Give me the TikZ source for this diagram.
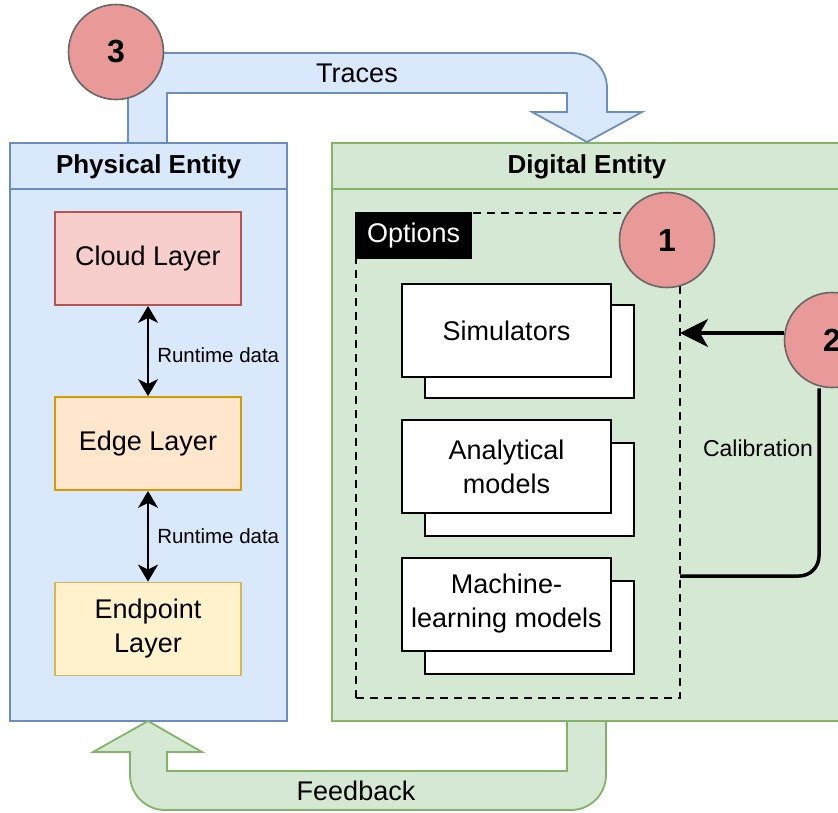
\documentclass[tikz,border=0pt]{standalone}
\usepackage{fontspec}
\setmainfont{Liberation Sans}
\usetikzlibrary{arrows.meta,calc}

\definecolor{blueFill}{HTML}{DAE8FC}
\definecolor{blueLine}{HTML}{6C8EBF}
\definecolor{greenFill}{HTML}{D5E8D4}
\definecolor{greenLine}{HTML}{82B366}
\definecolor{redFill}{HTML}{F8CECC}
\definecolor{redLine}{HTML}{B85450}
\definecolor{orangeFill}{HTML}{FFE6CC}
\definecolor{orangeLine}{HTML}{D79B00}
\definecolor{yellowFill}{HTML}{FFF2CC}
\definecolor{yellowLine}{HTML}{D6B656}
\definecolor{circFill}{HTML}{EA9999}
\definecolor{circLine}{HTML}{666666}

\pgfdeclarelayer{front}
\pgfsetlayers{main,front}

\tikzset{
  bigtext/.style={font=\fontsize{27}{34}\selectfont},
  titletext/.style={font=\bfseries\fontsize{26}{32}\selectfont, inner sep=0pt},
  physbox/.style={draw=blueLine, fill=blueFill, line width=1.8pt, inner sep=0pt},
  digibox/.style={draw=greenLine, fill=greenFill, line width=1.8pt, inner sep=0pt},
  layerbox/.style={line width=1.8pt, minimum width=186pt, minimum height=93pt,
    inner sep=0pt, align=center, bigtext},
  docback/.style={draw=black, fill=white, line width=2pt, minimum width=209pt,
    minimum height=93pt, inner sep=0pt},
  docfront/.style={docback, align=center, bigtext},
  optbox/.style={draw=black, line width=2pt, dash pattern=on 8pt off 6pt, inner sep=0pt},
  optlabel/.style={fill=black, text=white, inner sep=0pt, bigtext},
  numcircle/.style={circle, fill=circFill, draw=circLine, line width=1.6pt,
    minimum size=95pt, inner sep=0pt, font=\bfseries\fontsize{32}{36}\selectfont},
  bigarrowblue/.style={draw=blueLine, fill=blueFill, line width=1.8pt},
  bigarrowgreen/.style={draw=greenLine, fill=greenFill, line width=1.8pt},
  rtarrow/.style={line width=2.5pt, {Stealth[length=17pt,width=20pt,inset=5pt]}-{Stealth[length=17pt,width=20pt,inset=5pt]}},
  rtlabel/.style={font=\fontsize{20.5}{24}\selectfont, anchor=west, inner sep=0pt},
  calarrow/.style={line width=3.5pt, -{Stealth[length=28pt,width=28pt,inset=8pt]}},
  calline/.style={line width=3.5pt},
}

\begin{document}
\begin{tikzpicture}[x=1pt,y=-1pt]
\useasboundingbox (0,0) rectangle (838,812);

% Entities
\node[physbox, minimum width=277pt, minimum height=578pt] (phys) at (148.5,432) {};
\draw[draw=blueLine, line width=1.8pt] ([yshift=-47pt]phys.north west) -- ([yshift=-47pt]phys.north east);
\node[titletext] (physTitle) at (148.5,166.5) {Physical Entity};

\node[digibox, minimum width=510pt, minimum height=578pt] (digi) at (587,432) {};
\draw[draw=greenLine, line width=1.8pt] ([yshift=-47pt]digi.north west) -- ([yshift=-47pt]digi.north east);
\node[titletext] (digiTitle) at (587,166.5) {Digital Entity};

% Traces arrow
\draw[bigarrowblue] (128,143) -- (128,53) -- (572,53)
  .. controls (591.3,53) and (607,68.7) .. (607,88)
  -- (607,112) -- (642,112) -- (587,142) -- (532,112) -- (567,112)
  -- (567,93) -- (167,93) -- (167,143) -- cycle;
\node[bigtext, inner sep=0pt] (traces) at (357,73) {Traces};

% Feedback arrow
\draw[bigarrowgreen] (567,721) -- (567,771) -- (167,771) -- (167,752)
  -- (202,752) -- (148,721) -- (93,752) -- (130,752) -- (130,775)
  .. controls (130,794.3) and (145.7,810) .. (165,810) -- (571,810)
  .. controls (590.3,810) and (606,794.3) .. (606,775) -- (606,721) -- cycle;
\node[bigtext, inner sep=0pt] (feedback) at (356,791) {Feedback};

% Layers of the physical entity
\node[layerbox, draw=redLine, fill=redFill] (cloud) at (148,258.5) {Cloud Layer};
\node[layerbox, draw=orangeLine, fill=orangeFill] (edge) at (148,443.5) {Edge Layer};
\node[layerbox, draw=yellowLine, fill=yellowFill] (endpoint) at (148,629) {Endpoint\\Layer};

\draw[rtarrow] (cloud) -- (edge) node[rtlabel, midway, xshift=8pt, yshift=-4pt] {Runtime data};
\draw[rtarrow] (edge) -- (endpoint) node[rtlabel, midway, xshift=8pt] {Runtime data};

% Options of the digital entity
\node[optbox, minimum width=324pt, minimum height=485pt] (opts) at (518,455.5) {};
\node[optlabel, anchor=north west, minimum width=117pt, minimum height=47pt] (optsLabel) at (opts.north west) {Options};

\node[docback] (simBack) at (529.5,351.5) {};
\node[docfront] (sim) at (506.5,330.5) {Simulators};
\node[docback] (anaBack) at (529.5,489) {};
\node[docfront] (ana) at (506.5,466.5) {Analytical\\models};
\node[docback] (mlBack) at (529.5,627) {};
\node[docfront] (ml) at (506.5,604) {Machine-\\learning models};

% Step markers, kept above the connectors
\begin{pgfonlayer}{front}
\node[numcircle] (c1) at (667,240) {1};
\node[numcircle] (c2) at (832,340) {2};
\node[numcircle] (c3) at (116,52) {3};
\end{pgfonlayer}

% Calibration loop
\coordinate (calTip) at (680,333);
\coordinate (calFoot) at (680,576);
\draw[calarrow] (c2.west |- calTip) -- (calTip);
\draw[calline, rounded corners=20pt] (calFoot) -| ([xshift=-13pt]c2.south);
\node[font=\fontsize{23}{28}\selectfont, inner sep=0pt] (calib) at (758,448) {Calibration};
\end{tikzpicture}
\end{document}
